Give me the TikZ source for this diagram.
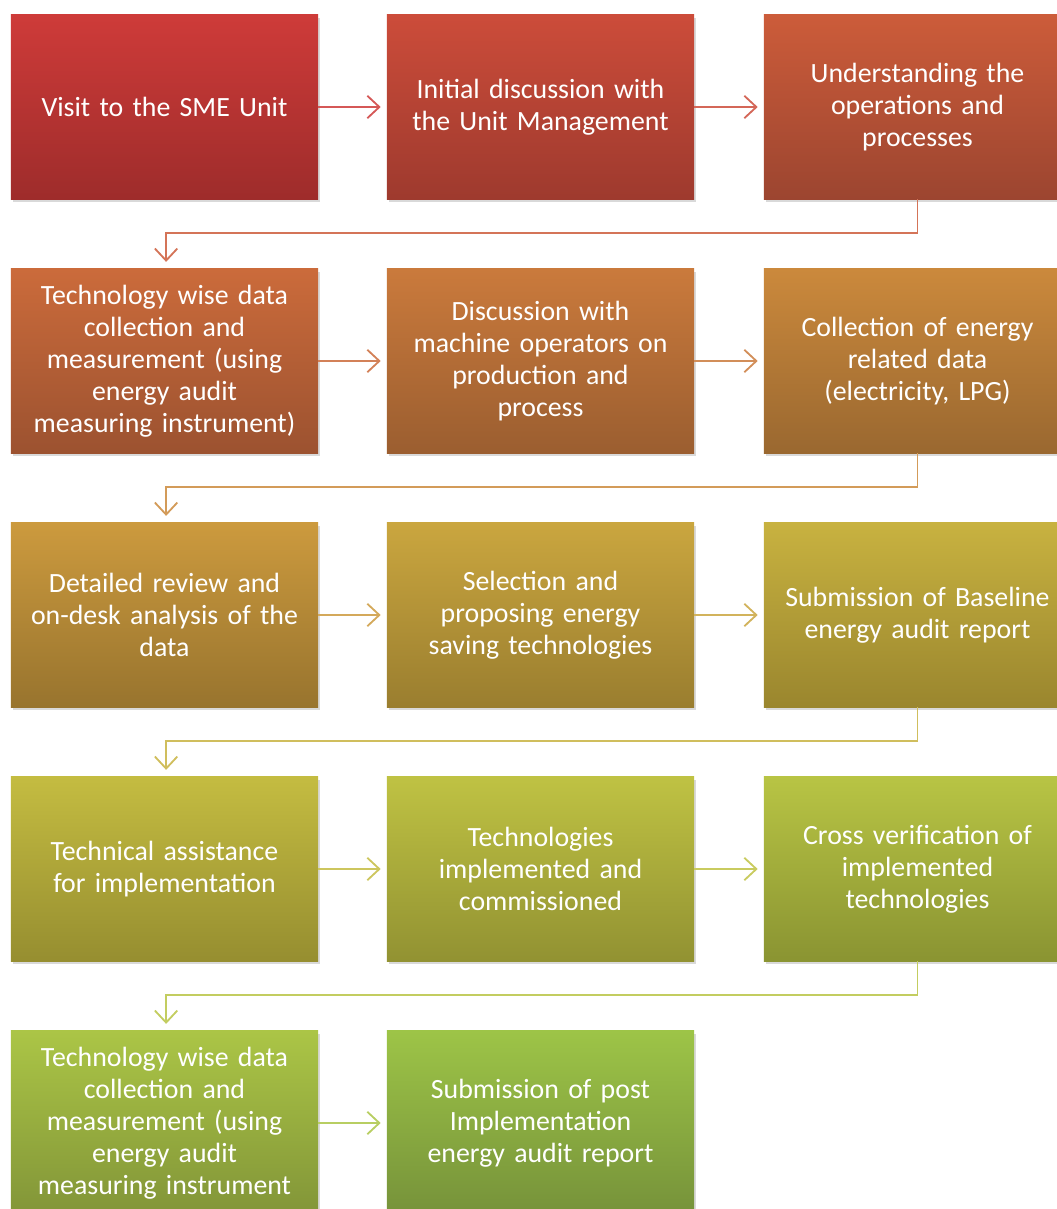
\documentclass[tikz,border=0pt]{standalone}
\usepackage{fontspec}
\setmainfont{Carlito}
\usepackage{tikz}
\usetikzlibrary{arrows.meta,shadows}

% colours of the stages, top and bottom of each gradient
\definecolor{c1t}{HTML}{CE3B39}\definecolor{c1b}{HTML}{9E2C2B}
\definecolor{c2t}{HTML}{CC4C3A}\definecolor{c2b}{HTML}{9E3A2E}
\definecolor{c3t}{HTML}{CC5C3A}\definecolor{c3b}{HTML}{9C4530}
\definecolor{c4t}{HTML}{CB6B3B}\definecolor{c4b}{HTML}{9C5230}
\definecolor{c5t}{HTML}{CA7A3C}\definecolor{c5b}{HTML}{9B5E30}
\definecolor{c6t}{HTML}{CB893C}\definecolor{c6b}{HTML}{9A6830}
\definecolor{c7t}{HTML}{CC9A3E}\definecolor{c7b}{HTML}{98742E}
\definecolor{c8t}{HTML}{CAA63F}\definecolor{c8b}{HTML}{9A7E2F}
\definecolor{c9t}{HTML}{C8B240}\definecolor{c9b}{HTML}{9A862E}
\definecolor{c10t}{HTML}{C4BC41}\definecolor{c10b}{HTML}{968E30}
\definecolor{c11t}{HTML}{BFC243}\definecolor{c11b}{HTML}{929232}
\definecolor{c12t}{HTML}{B8C444}\definecolor{c12b}{HTML}{8A9432}
\definecolor{c13t}{HTML}{ABC546}\definecolor{c13b}{HTML}{829538}
\definecolor{c14t}{HTML}{9DC447}\definecolor{c14b}{HTML}{76923A}

\tikzset{
  stage/.style={rectangle, minimum width=7.675cm, minimum height=4.6cm,
    text width=7.6cm, align=center, text=white, inner sep=0pt,
    font=\fontsize{19.8}{22.8}\selectfont,
    drop shadow={shadow xshift=0.04cm, shadow yshift=-0.07cm, opacity=0.3}},
  shade/.style={top color=#1t, bottom color=#1b},
  link/.style={draw=#1t!85!white, line width=1.3pt,
    -{Straight Barb[length=0.3cm, width=0.56cm, line width=1.3pt]}}
}

\begin{document}
\begin{tikzpicture}[x=0.025cm, y=-0.025cm]
        \clip (0,0) rectangle (1057,1209);
        \useasboundingbox (0,0) rectangle (1057,1209);

        % first row
        \node[stage, shade=c1] (visit) at (164.5,107) {Visit to the SME Unit};
        \node[stage, shade=c2] (initial) at (540.5,107) {Initial discussion with\\the Unit Management};
        \node[stage, shade=c3] (understand) at (917.5,107) {Understanding the\\operations and\\processes};

        % second row
        \node[stage, shade=c4] (techdata) at (164.5,361) {Technology wise data\\collection and\\measurement (using\\energy audit\\measuring instrument)};
        \node[stage, shade=c5] (operators) at (540.5,361) {Discussion with\\machine operators on\\production and\\process};
        \node[stage, shade=c6] (energydata) at (917.5,361) {Collection of energy\\related data\\(electricity, LPG)};

        % third row
        \node[stage, shade=c7] (review) at (164.5,615) {Detailed review and\\on-desk analysis of the\\data};
        \node[stage, shade=c8] (selection) at (540.5,615) {Selection and\\proposing energy\\saving technologies};
        \node[stage, shade=c9] (baseline) at (917.5,615) {Submission of Baseline\\energy audit report};

        % fourth row
        \node[stage, shade=c10] (assist) at (164.5,869) {Technical assistance\\for implementation};
        \node[stage, shade=c11] (implemented) at (540.5,869) {Technologies\\implemented and\\commissioned};
        \node[stage, shade=c12] (verify) at (917.5,869) {Cross verification of\\implemented\\technologies};

        % fifth row
        \node[stage, shade=c13] (measure) at (164.5,1123) {Technology wise data\\collection and\\measurement (using\\energy audit\\measuring instrument};
        \node[stage, shade=c14] (post) at (540.5,1123) {Submission of post\\Implementation\\energy audit report};

        % arrows along the rows
        \draw[link=c1, shorten >=0.15cm] (visit) -- (initial);
        \draw[link=c2, shorten >=0.15cm] (initial) -- (understand);
        \draw[link=c4, shorten >=0.15cm] (techdata) -- (operators);
        \draw[link=c5, shorten >=0.15cm] (operators) -- (energydata);
        \draw[link=c7, shorten >=0.15cm] (review) -- (selection);
        \draw[link=c8, shorten >=0.15cm] (selection) -- (baseline);
        \draw[link=c10, shorten >=0.15cm] (assist) -- (implemented);
        \draw[link=c11, shorten >=0.15cm] (implemented) -- (verify);
        \draw[link=c13, shorten >=0.15cm] (measure) -- (post);

        % elbow arrows down to the next row
        \draw[link=c3, shorten >=0.17cm] (understand.south) -- ++(0,34) -| ([xshift=0.04cm]techdata.north);
        \draw[link=c6, shorten >=0.17cm] (energydata.south) -- ++(0,34) -| ([xshift=0.04cm]review.north);
        \draw[link=c9, shorten >=0.17cm] (baseline.south) -- ++(0,34) -| ([xshift=0.04cm]assist.north);
        \draw[link=c12, shorten >=0.17cm] (verify.south) -- ++(0,34) -| ([xshift=0.04cm]measure.north);
    \end{tikzpicture}
\end{document}
